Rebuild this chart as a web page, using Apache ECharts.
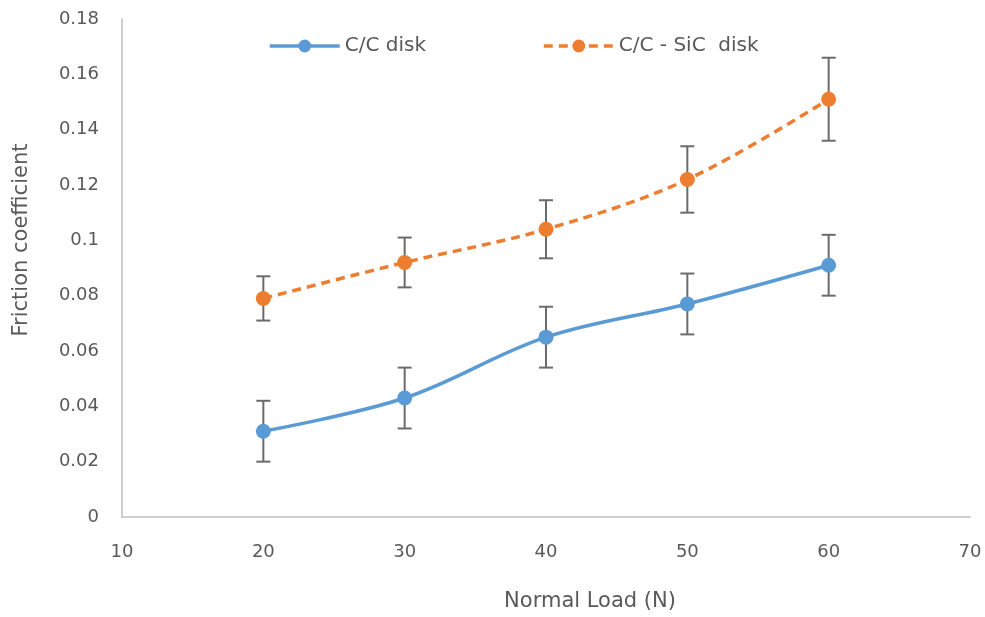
<!DOCTYPE html>
<html><head><meta charset="utf-8">
<script src="https://cdn.jsdelivr.net/npm/echarts@6/dist/echarts.min.js"></script>
<style>html,body{margin:0;padding:0;background:#fff;overflow:hidden}#c{width:985px;height:617px}</style>
</head><body><div id="c"></div>
<script>
var loads = [20, 30, 40, 50, 60];
var ccMean = [0.031, 0.043, 0.065, 0.077, 0.091];
var ccErr = [0.011, 0.011, 0.011, 0.011, 0.011];
var sicMean = [0.079, 0.092, 0.104, 0.122, 0.151];
var sicErr = [0.008, 0.009, 0.0105, 0.012, 0.015];
var yTicks = [0, 0.02, 0.04, 0.06, 0.08, 0.1, 0.12, 0.14, 0.16, 0.18];

var FONT = 'DejaVu Sans';
function pairs(m){ return loads.map(function(x,i){ return [x, m[i]]; }); }
function errData(m,e){ return loads.map(function(x,i){ return [x, m[i]-e[i], m[i]+e[i]]; }); }
function errRender(params, api){
  var x = api.value(0), lo = api.value(1), hi = api.value(2);
  var p1 = api.coord([x, hi]), p2 = api.coord([x, lo]);
  var w = 7;
  var st = {stroke:'#6b6b6b', lineWidth:2};
  return {type:'group', children:[
    {type:'line', shape:{x1:p1[0],y1:p1[1],x2:p2[0],y2:p2[1]}, style:st},
    {type:'line', shape:{x1:p1[0]-w,y1:p1[1],x2:p1[0]+w,y2:p1[1]}, style:st},
    {type:'line', shape:{x1:p2[0]-w,y1:p2[1],x2:p2[0]+w,y2:p2[1]}, style:st}
  ]};
}
var chart = echarts.init(document.getElementById('c'), null, {renderer:'canvas'});
chart.setOption({
  animation:false,
  backgroundColor:'#fff',
  textStyle:{fontFamily:FONT},
  legend:{
    top:31, left:263, itemGap:116, itemWidth:70, itemHeight:16,
    lineStyle:{width:3.5},
    textStyle:{fontFamily:FONT, fontSize:20, color:'#595959'},
    data:['C/C disk','C/C - SiC  disk']
  },
  grid:{left:122, right:15, top:19, bottom:97, containLabel:false},
  xAxis:{
    type:'value', min:10, max:70, interval:10,
    name:'Normal Load (N)', nameLocation:'middle', nameGap:74,
    nameTextStyle:{fontFamily:FONT, fontSize:21, color:'#595959', padding:[0,0,0,88]},
    axisLine:{show:true, lineStyle:{color:'#bfbfbf', width:1.5}},
    axisTick:{show:false}, splitLine:{show:false},
    axisLabel:{margin:26, fontSize:18, color:'#595959', fontFamily:FONT}
  },
  yAxis:{
    type:'value', min:0, max:0.18, interval:0.02,
    name:'Friction coefficient', nameLocation:'middle', nameGap:90,
    nameTextStyle:{fontFamily:FONT, fontSize:21, color:'#595959', padding:[0,0,0,56]},
    axisLine:{show:true, lineStyle:{color:'#bfbfbf', width:1.5}},
    axisTick:{show:false}, splitLine:{show:false},
    axisLabel:{margin:23, fontSize:18, color:'#595959', fontFamily:FONT,
      formatter:function(v){ var s = yTicks.filter(function(t){return Math.abs(t-v)<1e-9;}); return s.length? String(+s[0].toFixed(2)) : ''; }}
  },
  series:[
    {type:'custom', name:'errCC', renderItem:errRender, data:errData(ccMean, ccErr), z:1, silent:true},
    {type:'custom', name:'errSiC', renderItem:errRender, data:errData(sicMean, sicErr), z:1, silent:true},
    {type:'line', name:'C/C disk', data:pairs(ccMean), smooth:0.35, symbol:'circle', symbolSize:15,
     itemStyle:{color:'#5b9bd5'}, lineStyle:{color:'#5b9bd5', width:3.5}, z:3},
    {type:'line', name:'C/C - SiC  disk', data:pairs(sicMean), smooth:0.35, symbol:'circle', symbolSize:15,
     itemStyle:{color:'#ed7d31'}, lineStyle:{color:'#ed7d31', width:3.5, type:[9,6]}, z:3}
  ]
});
</script></body></html>
